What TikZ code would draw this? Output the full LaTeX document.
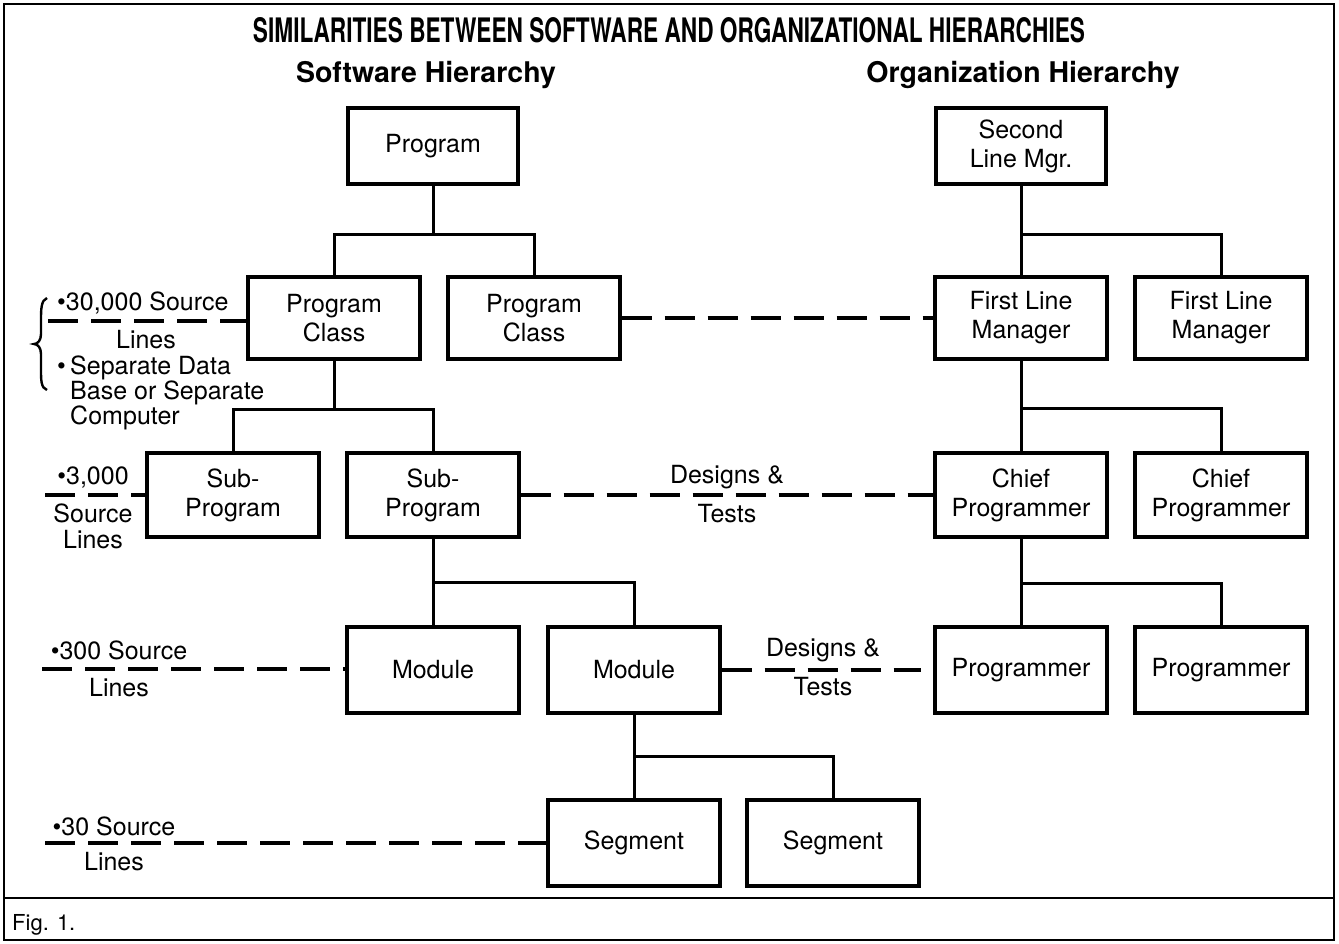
\documentclass[tikz,border=0pt]{standalone}
\usepackage{fontspec}
\usepackage{graphicx}
\setmainfont{TeX Gyre Heros}
\usetikzlibrary{calc}
\begin{document}
\begin{tikzpicture}[x=1pt,y=-1pt,
  box/.style={draw,line width=3.2pt,minimum width=172pt,minimum height=84pt,inner sep=0pt,align=center,font=\fontsize{25}{29}\selectfont},
  link/.style={line width=3pt},
  dlink/.style={line width=3.2pt,dash pattern=on 30pt off 13pt},
  lbl/.style={inner sep=0pt,font=\fontsize{25}{29}\selectfont,align=center},
  head/.style={inner sep=0pt,anchor=base,font=\fontsize{28.5}{30}\selectfont\bfseries},
]
\useasboundingbox (0,0) rectangle (1339,943);
% frame
\draw[line width=2pt] (4,4) rectangle (1334,940);
\coordinate (fl) at (4,898);
\coordinate (fr) at (1334,898);
\draw[line width=2pt] (fl) -- (fr);
\node[anchor=base west,inner sep=0pt,font=\fontsize{22}{24}\selectfont] (fig) at (12,930) {Fig. 1.};
% titles
\node[anchor=base,inner sep=0pt] (title) at (669,42) {\resizebox{832pt}{25pt}{\bfseries SIMILARITIES BETWEEN SOFTWARE AND ORGANIZATIONAL HIERARCHIES}};
\node[head] (sh) at (426,82) {Software Hierarchy};
\node[head] (oh) at (1023,82) {Organization Hierarchy};
% software boxes
\node[box,minimum width=170pt,minimum height=76pt] (prog) at (433,146) {Program};
\node[box,minimum height=82pt] (pc1) at (334,318) {Program\\Class};
\node[box,minimum height=82pt] (pc2) at (534,318) {Program\\Class};
\node[box] (sp1) at (233,495) {Sub-\\Program};
\node[box] (sp2) at (433,495) {Sub-\\Program};
\node[box,minimum height=86pt] (mod1) at (433,670) {Module};
\node[box,minimum height=86pt] (mod2) at (634,670) {Module};
\node[box,minimum height=86pt] (seg1) at (634,843) {Segment};
\node[box,minimum height=86pt] (seg2) at (833,843) {Segment};
% organization boxes
\node[box,minimum width=170pt,minimum height=76pt] (slm) at (1021,146) {Second\\Line Mgr.};
\node[box,minimum height=82pt] (flm1) at (1021,318) {First Line\\Manager};
\node[box,minimum height=82pt] (flm2) at (1221,318) {First Line\\Manager};
\node[box] (cp1) at (1021,495) {Chief\\Programmer};
\node[box] (cp2) at (1221,495) {Chief\\Programmer};
\node[box,minimum height=86pt] (pr1) at (1021,670) {Programmer};
\node[box,minimum height=86pt] (pr2) at (1221,670) {Programmer};
% tree connectors
\draw[link] (prog.south) -- ++(0,49) -| (pc1.north);
\draw[link] (prog.south) ++(0,49) -| (pc2.north);
\draw[link] (pc1.south) -- ++(0,49) -| (sp1.north);
\draw[link] (pc1.south) ++(0,49) -| (sp2.north);
\draw[link] (sp2.south) -- ++(0,44) -| (mod1.north);
\draw[link] (sp2.south) ++(0,44) -| (mod2.north);
\draw[link] (mod2.south) -- ++(0,42) -| (seg1.north);
\draw[link] (mod2.south) ++(0,42) -| (seg2.north);
\draw[link] (slm.south) -- ++(0,49) -| (flm1.north);
\draw[link] (slm.south) ++(0,49) -| (flm2.north);
\draw[link] (flm1.south) -- ++(0,48) -| (cp1.north);
\draw[link] (flm1.south) ++(0,48) -| (cp2.north);
\draw[link] (cp1.south) -- ++(0,45) -| (pr1.north);
\draw[link] (cp1.south) ++(0,45) -| (pr2.north);
% cross dashed links
\draw[dlink] (pc2.east) -- (flm1.west);
\draw[dlink] (sp2.east) -- (cp1.west);
\node[lbl] (dt1a) at (727,477) {Designs \&};
\node[lbl] (dt1b) at (727,514) {Tests};
\coordinate (mend) at ($(pr1.west)+(-12,0)$);
\draw[dlink] (mod2.east) -- (mend);
\node[lbl] (dt2a) at (823,650) {Designs \&};
\node[lbl] (dt2b) at (823,687) {Tests};
% left annotations
\coordinate (a1) at (48,321);
\draw[dlink] (a1) -- (a1 -| pc1.west);
\node[lbl,anchor=west] (t1) at (57,303) {\textbullet30,000 Source};
\node[lbl] (t1b) at (146,340) {Lines};
\node[lbl,anchor=west] (t2bul) at (57,369) {\textbullet};
\node[lbl,anchor=west,align=left,font=\fontsize{25}{25}\selectfont] (t2) at (70,393) {Separate Data\\Base or Separate\\Computer};
\draw[line width=2.4pt] (47,298) .. controls (41,300) and (41,310) .. (41,320) -- (41,334) .. controls (41,340) and (38,344) .. (34,344) .. controls (38,344) and (41,348) .. (41,354) -- (41,370) .. controls (41,380) and (41,388) .. (47,390);
\coordinate (a2) at (45,495);
\draw[dlink] (a2) -- (a2 -| sp1.west);
\node[lbl] (t3) at (93,477) {\textbullet3,000};
\node[lbl,font=\fontsize{25}{26}\selectfont] (t3b) at (93,526) {Source\\Lines};
\coordinate (a3) at (42,669);
\draw[dlink] (a3) -- (a3 -| mod1.west);
\node[lbl] (t4) at (119,650) {\textbullet300 Source};
\node[lbl] (t4b) at (119,688) {Lines};
\coordinate (a4) at (45,843);
\draw[dlink] (a4) -- (a4 -| seg1.west);
\node[lbl] (t5) at (114,826) {\textbullet30 Source};
\node[lbl] (t5b) at (114,862) {Lines};
\end{tikzpicture}
\end{document}
